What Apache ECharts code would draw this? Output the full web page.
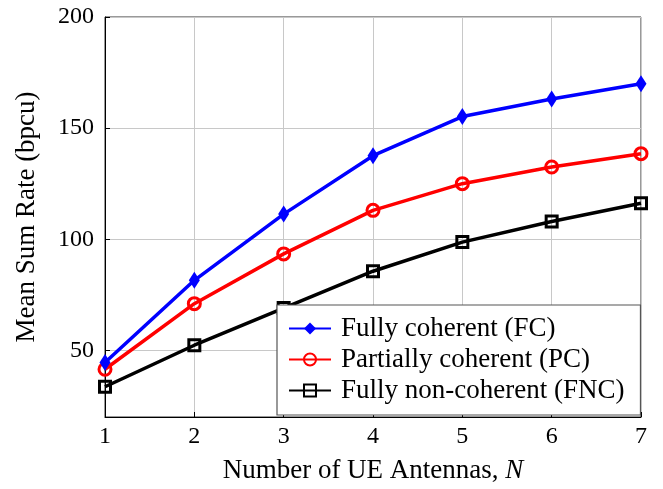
<!DOCTYPE html>
<html><head><meta charset="utf-8">
<script src="https://cdn.jsdelivr.net/npm/echarts@6/dist/echarts.min.js"></script>
<style>html,body{margin:0;padding:0;background:#fff}#c{width:663px;height:489px}</style>
</head><body><div id="c"></div>
<script>
const xValues = [1, 2, 3, 4, 5, 6, 7];
const fcValues = [44.5, 81.5, 111.3, 137.6, 155.2, 163.1, 170.0];
const pcValues = [41.5, 71.0, 93.4, 113.0, 125.0, 132.5, 138.5];
const fncValues = [33.6, 52.3, 69.0, 85.6, 98.7, 108.0, 116.2];
const yTicks = [50, 100, 150, 200];
const seriesNames = ['Fully coherent (FC)', 'Partially coherent (PC)', 'Fully non-coherent (FNC)'];

const font = 'Liberation Serif';
const pair = v => xValues.map((x, i) => [x, v[i]]);
const chart = echarts.init(document.getElementById('c'), null, {renderer: 'canvas'});
chart.setOption({
  animation: false,
  backgroundColor: '#fff',
  grid: {left: 105, right: 22, top: 17, bottom: 72, show: true, borderColor: '#333', borderWidth: 1, backgroundColor: 'transparent'},
  xAxis: {
    type: 'value', min: 1, max: 7, interval: 1,
    name: 'Number of UE Antennas, {i|N}', nameLocation: 'middle', nameGap: 40,
    nameTextStyle: {fontFamily: font, fontSize: 27, color: '#000', rich: {i: {fontFamily: font, fontStyle: 'italic', fontSize: 27, color: '#000'}}},
    axisLine: {lineStyle: {color: '#000', width: 1}},
    axisTick: {inside: true, length: 5, lineStyle: {color: '#000'}},
    axisLabel: {fontFamily: font, fontSize: 24, color: '#000', margin: 8},
    splitLine: {show: true, lineStyle: {color: '#c8c8c8', width: 1}}
  },
  yAxis: {
    type: 'value', min: 20, max: 200,
    name: 'Mean Sum Rate (bpcu)', nameLocation: 'middle', nameGap: 65,
    nameTextStyle: {fontFamily: font, fontSize: 27, color: '#000'},
    axisLine: {show: true, lineStyle: {color: '#000', width: 1}},
    axisTick: {inside: true, length: 5, customValues: yTicks, lineStyle: {color: '#000'}},
    axisLabel: {fontFamily: font, fontSize: 24, color: '#000', margin: 11, customValues: yTicks},
    splitLine: {show: true, lineStyle: {color: '#c8c8c8', width: 1}}
  },
  legend: {
    left: 277, top: 305, orient: 'vertical',
    backgroundColor: '#fff', borderColor: '#555', borderWidth: 1.2,
    padding: [10, 16, 11, 11], itemGap: 4, itemWidth: 42, itemHeight: 15,
    textStyle: {fontFamily: font, fontSize: 27, color: '#000', padding: [0, 0, 0, 5]},
    data: seriesNames
  },
  series: [
    {name: seriesNames[0], type: 'line', data: pair(fcValues), color: '#0000ff',
     lineStyle: {width: 3.5, color: '#0000ff'}, symbol: 'diamond', symbolSize: [11, 17],
     itemStyle: {color: '#0000ff'}, z: 5},
    {name: seriesNames[1], type: 'line', data: pair(pcValues), color: '#ff0000',
     lineStyle: {width: 3.5, color: '#ff0000'}, symbol: 'circle', symbolSize: 12,
     itemStyle: {color: 'rgba(255,255,255,0)', borderColor: '#ff0000', borderWidth: 3}, z: 4},
    {name: seriesNames[2], type: 'line', data: pair(fncValues), color: '#000',
     lineStyle: {width: 3.5, color: '#000'}, symbol: 'rect', symbolSize: 11,
     itemStyle: {color: 'rgba(255,255,255,0)', borderColor: '#000', borderWidth: 3}, z: 3}
  ]
});
</script></body></html>
